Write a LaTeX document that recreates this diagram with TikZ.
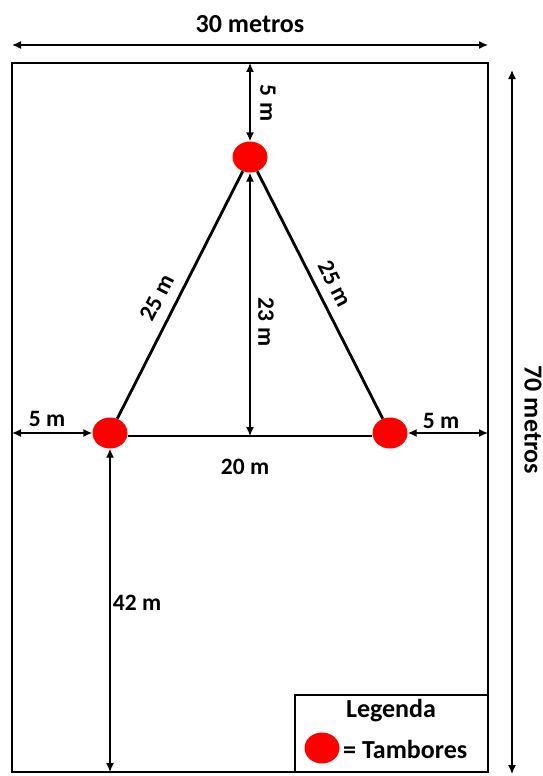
\documentclass[tikz,border=0pt]{standalone}
\usepackage{fontspec}
\setmainfont{Carlito}
\usetikzlibrary{shapes.geometric,arrows.meta,calc}
\begin{document}
\begin{tikzpicture}[x=1pt,y=-1pt,
  lbl/.style={font=\fontsize{23.5}{27}\selectfont\bfseries, inner sep=1pt},
  biglbl/.style={font=\fontsize{26}{30}\selectfont\bfseries, inner sep=1pt},
  tambor/.style={ellipse, fill=red, draw=none, minimum width=35pt, minimum height=31pt, inner sep=0pt},
  dim/.style={line width=1.4pt, {Latex[length=9pt,width=8pt]}-{Latex[length=9pt,width=8pt]}},
  edgeline/.style={line width=2.8pt},
  ]
\useasboundingbox (0,0) rectangle (543,776);
\node[draw, line width=2.8pt, minimum width=476pt, minimum height=709pt, inner sep=0pt, outer sep=0pt] (field) at (250,417.5) {};
% tambores
\node[tambor] (top) at (250,157) {};
\node[tambor] (left) at (110,433) {};
\node[tambor] (right) at (390,433) {};
% triangle
\draw[edgeline] (top) -- (left);
\draw[edgeline] (top) -- (right);
\draw[edgeline] ([yshift=-3pt]left.east) -- ([yshift=-3pt]right.west);
% dimensions
\coordinate (basemid) at (250,436);
\draw[dim] (top.south) -- (basemid);
\draw[dim] (top.north |- field.north) -- (top.north);
\draw[dim] (field.west |- left) -- (left.west);
\draw[dim] (right.east) -- (field.east |- right);
\draw[dim] (left.south) -- (left.south |- field.south);
\draw[dim] ([yshift=18pt]field.north west) -- ([yshift=18pt]field.north east);
\coordinate (r1) at (512,70);
\coordinate (r2) at (512,774);
\draw[dim] (r1) -- (r2);
% labels
\node[biglbl] (l30) at (250,24) {30 metros};
\node[biglbl, rotate=-90] (l70) at (533,420) {70 metros};
\node[lbl, rotate=-90] (l5t) at (268,103) {5 m};
\node[lbl, rotate=-90] (l23) at (266,322) {23 m};
\node[lbl, rotate=63] (l25a) at (157,298) {25 m};
\node[lbl, rotate=-63] (l25b) at (335,284) {25 m};
\node[lbl] (l5l) at (47,419) {5 m};
\node[lbl] (l5r) at (441,421) {5 m};
\node[lbl] (l20) at (245,467) {20 m};
\node[lbl] (l42) at (137,603) {42 m};
% legend
\node[draw, line width=1.6pt, minimum width=193pt, minimum height=77pt, inner sep=0pt] (legend) at (391.5,733.5) {};
\node[biglbl] (legt) at (391,711) {Legenda};
\node[tambor] (legc) at (322,748) {};
\node[biglbl, anchor=west] (legtxt) at (342,749) {= Tambores};
\end{tikzpicture}
\end{document}
